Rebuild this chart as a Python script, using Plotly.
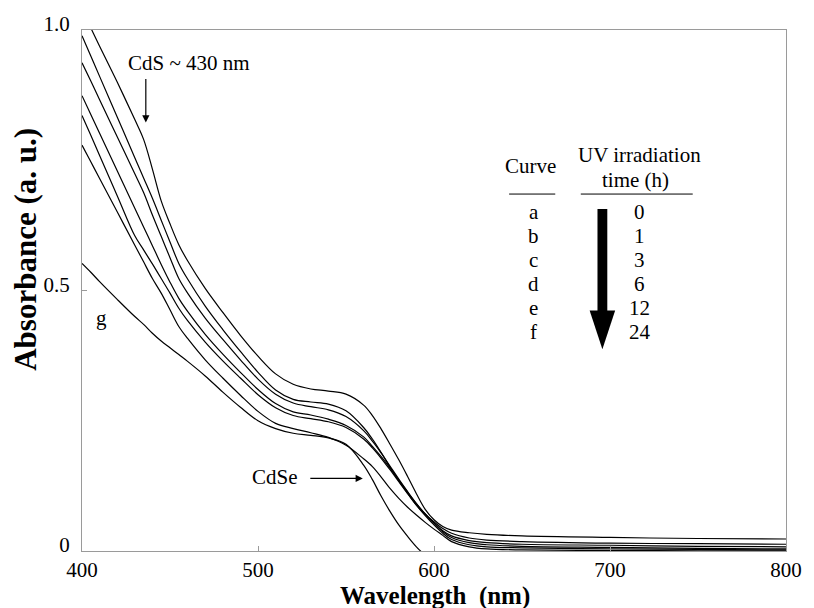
import plotly.graph_objects as go

# ---------------- data ----------------
wavelength = [400, 405, 410, 420, 430, 435, 440, 445, 450, 455, 460, 470, 480, 490, 500,
              510, 520, 530, 540, 550, 560, 565, 570, 575, 580, 585, 590, 595, 600, 605,
              610, 620, 630, 650, 700, 750, 800]

curve_a = [1.04, 1.004, 0.969, 0.900, 0.828, 0.790, 0.733, 0.672, 0.628, 0.588, 0.557, 0.504, 0.458, 0.414, 0.374,
           0.340, 0.320, 0.311, 0.307, 0.301, 0.280, 0.260, 0.234, 0.205, 0.175, 0.143, 0.110, 0.080, 0.060, 0.047,
           0.040, 0.035, 0.032, 0.029, 0.026, 0.024, 0.023]
curve_b = [0.989, 0.950, 0.911, 0.833, 0.755, 0.716, 0.677, 0.635, 0.593, 0.552, 0.522, 0.470, 0.425, 0.383, 0.343,
           0.309, 0.291, 0.286, 0.282, 0.269, 0.237, 0.215, 0.189, 0.161, 0.135, 0.111, 0.088, 0.070, 0.056, 0.043,
           0.034, 0.025, 0.021, 0.018, 0.015, 0.014, 0.013]
curve_c = [0.937, 0.902, 0.866, 0.795, 0.724, 0.688, 0.645, 0.604, 0.563, 0.523, 0.495, 0.447, 0.406, 0.367, 0.330,
           0.301, 0.284, 0.277, 0.271, 0.258, 0.231, 0.211, 0.188, 0.163, 0.138, 0.114, 0.091, 0.071, 0.054, 0.039,
           0.029, 0.020, 0.016, 0.013, 0.011, 0.009, 0.008]
curve_d = [0.874, 0.838, 0.802, 0.730, 0.658, 0.622, 0.586, 0.550, 0.516, 0.485, 0.460, 0.416, 0.378, 0.343, 0.310,
           0.283, 0.267, 0.261, 0.253, 0.241, 0.219, 0.201, 0.181, 0.159, 0.136, 0.113, 0.091, 0.071, 0.053, 0.037,
           0.026, 0.016, 0.012, 0.009, 0.007, 0.005, 0.004]
curve_e = [0.836, 0.798, 0.759, 0.682, 0.605, 0.578, 0.551, 0.523, 0.495, 0.466, 0.442, 0.401, 0.365, 0.332, 0.300,
           0.275, 0.260, 0.254, 0.248, 0.237, 0.215, 0.198, 0.178, 0.156, 0.133, 0.110, 0.088, 0.068, 0.050, 0.034,
           0.022, 0.012, 0.008, 0.006, 0.004, 0.003, 0.002]
curve_f = [0.779, 0.747, 0.715, 0.651, 0.587, 0.555, 0.523, 0.495, 0.463, 0.431, 0.408, 0.367, 0.332, 0.299, 0.268,
           0.245, 0.235, 0.227, 0.218, 0.203, 0.177, 0.162, 0.142, 0.120, 0.101, 0.084, 0.069, 0.055, 0.042, 0.030,
           0.018, 0.008, 0.004, 0.002, 0.001, 0.0005, 0.0005]
curve_g = [0.552, 0.535, 0.517, 0.483, 0.45, 0.435, 0.418, 0.403, 0.39, 0.377, 0.364, 0.336, 0.305, 0.276, 0.25,
           0.235, 0.226, 0.222, 0.217, 0.205, 0.165, 0.137, 0.105, 0.076, 0.05, 0.028, 0.008, -0.008, -0.02, -0.02,
           -0.02, -0.02, -0.02, -0.02, -0.02, -0.02, -0.02]

curves = [curve_a, curve_b, curve_c, curve_d, curve_e, curve_f, curve_g]

x_ticks = [400, 500, 600, 700, 800]
y_tickvals = [0, 0.5, 1.0]
y_ticktext = ["0", "0.5", "1.0"]

table_curves = ["a", "b", "c", "d", "e", "f"]
table_times = ["0", "1", "3", "6", "12", "24"]

# ---------------- layout helpers (pixel -> paper) ----------------
L, R, T, B = 82, 799, 27, 551
def px(xp):
    return (xp - L) / (R - L)
def py(yp):
    return (B - yp) / (B - T)

FONT = "Liberation Serif, Times New Roman, serif"

fig = go.Figure()
for c in curves:
    fig.add_trace(go.Scatter(x=wavelength, y=c, mode="lines",
                             line=dict(color="black", width=1.2, shape="spline", smoothing=1.0),
                             showlegend=False, hoverinfo="skip"))

ann = []
def txt(s, xp, yp, size=21, bold=False, angle=0):
    ann.append(dict(text=f"<b>{s}</b>" if bold else s, x=px(xp), y=py(yp), xref="paper", yref="paper",
                    showarrow=False, xanchor="center", yanchor="middle", textangle=angle,
                    font=dict(family=FONT, size=size, color="black")))

txt("CdS ~ 430 nm", 191, 60)
txt("g", 102, 317)
txt("CdSe", 279, 477)
txt("Curve", 539, 164)
txt("UV irradiation", 650, 153)
txt("time (h)", 646, 178)
for i, (cname, t) in enumerate(zip(table_curves, table_times)):
    yy = 210 + 24.2 * i
    txt(cname, 542, yy)
    txt(t, 650, yy)

txt("Wavelength\u2002(nm)", 442, 596, size=25, bold=True)
txt("Absorbance (a. u.)", 25, 248, size=31, bold=True, angle=-90)

# thin arrows
ann.append(dict(x=px(147), y=py(120), xref="paper", yref="paper", ax=0, ay=-45, text="",
                showarrow=True, arrowhead=2, arrowsize=1.2, arrowwidth=1.2, arrowcolor="black"))
ann.append(dict(x=px(368), y=py(478), xref="paper", yref="paper", ax=-54, ay=0, text="",
                showarrow=True, arrowhead=2, arrowsize=1.2, arrowwidth=1.2, arrowcolor="black"))

shapes = [
    dict(type="line", xref="paper", yref="paper", x0=px(517), x1=px(564), y0=py(192), y1=py(192),
         line=dict(color="black", width=1)),
    dict(type="line", xref="paper", yref="paper", x0=px(590), x1=px(704), y0=py(192), y1=py(192),
         line=dict(color="black", width=1)),
    dict(type="rect", xref="paper", yref="paper", x0=px(607), x1=px(617), y0=py(310), y1=py(207),
         fillcolor="black", line=dict(width=0)),
    dict(type="path", xref="paper", yref="paper",
         path=f"M {px(599)},{py(309)} L {px(625)},{py(309)} L {px(612)},{py(348)} Z",
         fillcolor="black", line=dict(width=0)),
]

axis_common = dict(showline=True, linecolor="#9a9a9a", linewidth=1, mirror=True,
                   ticks="inside", ticklen=5, tickcolor="#9a9a9a", showgrid=False, zeroline=False,
                   ticklabeloverflow="allow",
                   tickfont=dict(family=FONT, size=21, color="black"))

fig.update_layout(
    width=814, height=608,
    margin=dict(l=L, r=814 - R, t=T, b=608 - B),
    paper_bgcolor="white", plot_bgcolor="white",
    xaxis=dict(range=[400, 800], tickvals=x_ticks, ticklabelstandoff=0, **axis_common),
    yaxis=dict(range=[0, 1], tickvals=y_tickvals, ticktext=y_ticktext, ticklabelshift=-6,
               ticklabelstandoff=7, **axis_common),
    annotations=ann, shapes=shapes,
    font=dict(family=FONT, color="black"),
)

fig.write_html("out.html")
